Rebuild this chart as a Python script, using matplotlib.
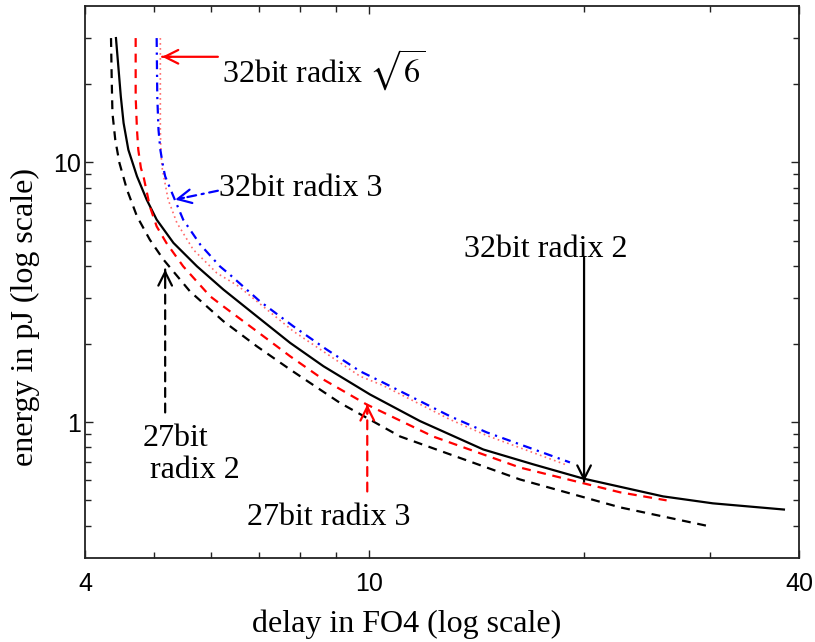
import matplotlib
matplotlib.use('Agg')
import numpy as np
import matplotlib.pyplot as plt
from matplotlib.ticker import FixedLocator, FixedFormatter, NullFormatter

plt.rcParams['mathtext.fontset'] = 'stix'

# ---- data (delay in FO4, energy in pJ) ----
r2_32_x = [4.42, 4.45, 4.49, 4.53, 4.60, 4.73, 4.88, 5.04, 5.32, 5.74, 6.25, 6.96, 7.75, 8.63,
           10.03, 11.78, 14.45, 16.98, 19.93, 25.8, 30.3, 38.1]
r2_32_y = [30.1, 24.1, 17.9, 14.18, 11.19, 8.84, 7.19, 6.02, 4.90, 3.98, 3.24, 2.557, 2.02, 1.642,
           1.278, 1.01, 0.785, 0.688, 0.607, 0.518, 0.487, 0.461]

r2_27_x = [4.35, 4.36, 4.37, 4.41, 4.47, 4.58, 4.73, 4.93, 5.15, 5.61, 6.25, 6.96, 7.75, 9.10,
           11.05, 16.26, 22.46, 30.0]
r2_27_y = [30.1, 20.8, 15.5, 12.23, 9.95, 7.85, 6.20, 5.04, 4.23, 3.19, 2.447, 1.960, 1.595, 1.187,
           0.881, 0.602, 0.470, 0.397]

r3_27_x = [4.71, 4.71, 4.73, 4.75, 4.79, 4.83, 4.93, 5.04, 5.20, 5.49, 5.99, 6.25, 6.96, 7.75,
           8.63, 9.92, 12.29, 16.26, 22.46, 26.1]
r3_27_y = [30.1, 17.9, 13.35, 11.19, 9.52, 8.84, 6.77, 5.67, 4.90, 3.98, 3.05, 2.79, 2.239, 1.794,
           1.459, 1.17, 0.881, 0.669, 0.537, 0.50]

r3_32_x = [5.04, 5.05, 5.07, 5.10, 5.15, 5.18, 5.32, 5.49, 5.80, 6.18, 6.38, 7.03, 7.83, 8.72,
           9.71, 10.46, 12.98, 14.62, 19.11]
r3_32_y = [30.1, 17.9, 13.35, 11.19, 9.52, 8.84, 7.40, 6.02, 4.83, 3.98, 3.70, 2.92, 2.34, 1.904,
           1.571, 1.421, 1.054, 0.913, 0.700]

rs6_32_x = [5.10, 5.10, 5.11, 5.13, 5.23, 5.38, 5.67, 6.12, 6.56, 7.83, 9.71, 10.46, 12.98, 14.62, 18.8]
rs6_32_y = [30.1, 13.35, 10.87, 9.52, 7.19, 5.85, 4.62, 3.75, 3.34, 2.24, 1.503, 1.384, 1.024, 0.888, 0.688]

x_ticks = [4, 10, 40]
x_ticklabels = ['4', '10', '40']
x_minor = [5, 6, 7, 8, 9, 20, 30]
y_ticks = [1, 10]
y_ticklabels = ['1', '10']
y_minor = [0.4, 0.5, 0.6, 0.7, 0.8, 0.9, 2, 3, 4, 5, 6, 7, 8, 9, 20, 30]

# annotations: (text lines, text pos, arrow tip, arrow tail, color, linestyle)
annotations = [
    (['32bit radix $\\sqrt{6}$'], [(6.23, 22.7)], (5.13, 25.5), (6.14, 25.5), 'red', '-'),
    (['32bit radix 3'], [(6.17, 7.92)], (5.35, 7.19), (6.14, 7.78), 'blue', (0, (4, 2.5, 1, 2.5))),
    (['32bit radix 2'], [(13.6, 4.62)], (20.0, 0.591), (20.0, 4.30), 'black', '-'),
    (['27bit', 'radix 2'], [(4.82, 0.866), (4.93, 0.652)], (5.18, 3.87), (5.18, 1.09), 'black', (0, (4, 3))),
    (['27bit radix 3'], [(6.75, 0.430)], (9.94, 1.17), (9.94, 0.541), 'red', (0, (4, 3))),
]

W, H = 815, 642
fig = plt.figure(figsize=(W / 100, H / 100), dpi=100)
ax = fig.add_axes([85 / W, 1 - 558 / H, 714 / W, 552 / H])

ax.plot(r2_32_x, r2_32_y, color='black', lw=1.6, ls='-')
ax.plot(r2_27_x, r2_27_y, color='black', lw=1.6, ls=(0, (4, 3)))
ax.plot(r3_27_x, r3_27_y, color='red', lw=1.6, ls=(0, (4, 3)))
ax.plot(rs6_32_x, rs6_32_y, color='#ff6a6a', lw=1.2, ls=(0, (1, 2)))
ax.plot(r3_32_x, r3_32_y, color='blue', lw=1.6, ls=(0, (4, 2.5, 1, 2.5)))

ax.set_xscale('log')
ax.set_yscale('log')
ax.set_xlim(4, 40)
ax.set_ylim(0.3, 40)

ax.xaxis.set_major_locator(FixedLocator(x_ticks))
ax.xaxis.set_major_formatter(FixedFormatter(x_ticklabels))
ax.xaxis.set_minor_locator(FixedLocator(x_minor))
ax.xaxis.set_minor_formatter(NullFormatter())
ax.yaxis.set_major_locator(FixedLocator(y_ticks))
ax.yaxis.set_major_formatter(FixedFormatter(y_ticklabels))
ax.yaxis.set_minor_locator(FixedLocator(y_minor))
ax.yaxis.set_minor_formatter(NullFormatter())

ax.tick_params(which='both', direction='in', top=True, right=True, width=1.0, colors='#222222')
ax.tick_params(which='major', length=5.5)
ax.tick_params(which='minor', length=4.5)
ax.tick_params(axis='x', which='major', pad=10, labelsize=18)
ax.tick_params(axis='y', which='major', pad=3, labelsize=18)
for lab in ax.get_xticklabels() + ax.get_yticklabels():
    lab.set_family('Liberation Sans')
    lab.set_color('black')
for sp in ax.spines.values():
    sp.set_linewidth(1.3)
    sp.set_color('#222222')

serif = 'Liberation Serif'
FS = 23
ax.set_xlabel('delay in FO4 (log scale)', fontsize=FS, family=serif)
ax.set_ylabel('energy in pJ (log scale)', fontsize=FS, family=serif)
ax.xaxis.set_label_coords(0.45, -0.093)
ax.yaxis.set_label_coords(-0.063, 0.437)

fig.canvas.draw()
for lines, poss, tip, tail, col, ls in annotations:
    for t, p in zip(lines, poss):
        ax.text(p[0], p[1], t, fontsize=FS, family=serif, ha='left', va='center')
    # shaft
    ax.annotate('', xy=tip, xytext=tail,
                arrowprops=dict(arrowstyle='-', color=col, lw=1.6, linestyle=ls,
                                shrinkA=0, shrinkB=0))
    # head (solid)
    p_tip = ax.transData.transform(tip)
    p_tail = ax.transData.transform(tail)
    d = p_tail - p_tip
    d = d / np.hypot(*d) * 9
    ax.annotate('', xy=tip, xytext=(d[0], d[1]), textcoords='offset pixels',
                arrowprops=dict(arrowstyle='->,head_length=0.7,head_width=0.35', color=col,
                                lw=1.6, shrinkA=0, shrinkB=0, mutation_scale=14))

fig.savefig('out.png', dpi=100)
